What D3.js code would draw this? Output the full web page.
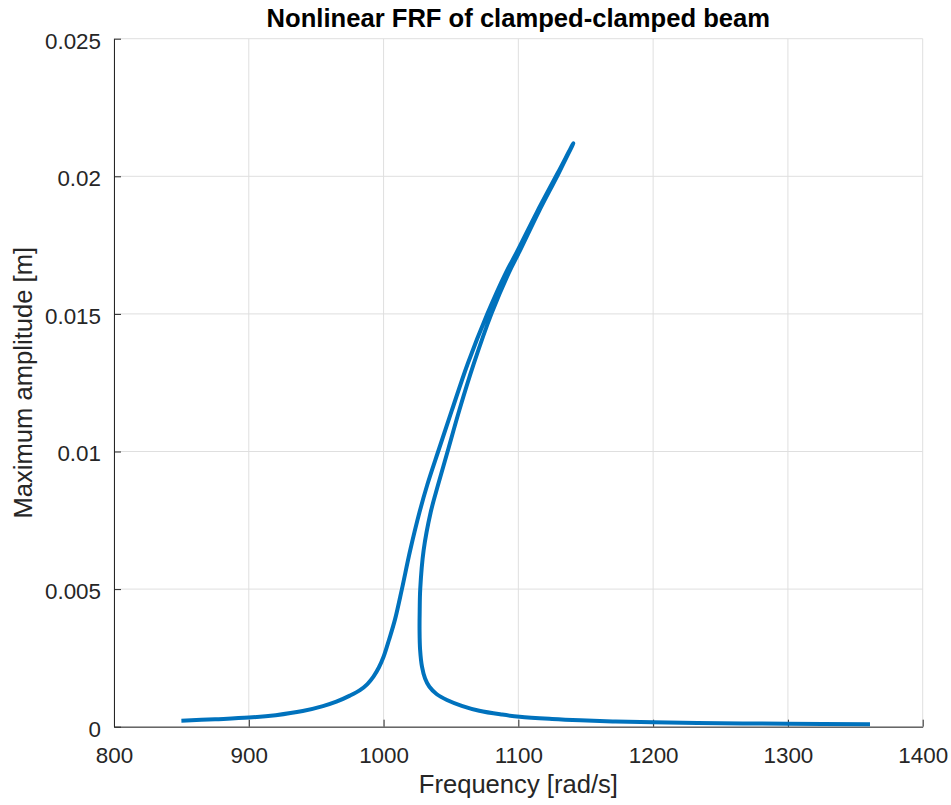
<!DOCTYPE html>
<html>
  <head>
    <meta charset="utf-8">
    <script src="https://d3js.org/d3.v7.min.js"></script>
    <title>Nonlinear FRF of clamped-clamped beam</title>
    <style>
      body { margin: 0; background: #fff; }
      text { font-family: "Liberation Sans", Arial, Helvetica, sans-serif; fill: #262626; }
    </style>
  </head>
  <body>
    <div id="chart"></div>
  </body>
  <script>

    // DATA

    // stable upper branch, rising from 850 rad/s to the peak
    const upFreq = [850, 875, 900, 920, 940, 955, 965, 975, 982.5, 988, 992.5, 996.5, 1000,
                    1004, 1008.5, 1013.6, 1019.8, 1026.7, 1032.5, 1040.5, 1050.7, 1062.5, 1077,
                    1090.8, 1099, 1113.8, 1129, 1140.8];
    const upAmp = [0.00022, 0.00027, 0.00033, 0.00042, 0.00057, 0.00075, 0.00091, 0.00113,
                   0.00133, 0.00155, 0.00182, 0.00215, 0.00254, 0.00315, 0.0039, 0.0050,
                   0.00642, 0.0078, 0.0088, 0.0100, 0.0115, 0.0132, 0.0150, 0.0165, 0.01726,
                   0.0187, 0.0201, 0.0212];

    // unstable branch back down from the peak, then the lower stable branch
    const downFreq = [1140.8, 1129.8, 1115, 1100.8, 1093, 1080, 1067, 1056.2, 1047.5,
                      1040.5, 1035, 1029.7, 1027.2, 1026.8, 1026.7, 1027.1, 1028.5, 1030.8,
                      1034, 1039.5, 1047, 1058, 1071, 1088, 1101, 1125, 1146, 1170, 1200,
                      1250, 1300, 1360.9];
    const downAmp = [0.0212, 0.0201, 0.0187, 0.01726, 0.0165, 0.0150, 0.0132, 0.0115, 0.0100,
                     0.0088, 0.0078, 0.0064, 0.0050, 0.0042, 0.0035, 0.0028, 0.00218, 0.00175,
                     0.00145, 0.00118, 0.00097, 0.00076, 0.00058, 0.00044, 0.00036, 0.00028,
                     0.00023, 0.00019, 0.00016, 0.000127, 0.000105, 0.000087];

    const xTicks = [800, 900, 1000, 1100, 1200, 1300, 1400];
    const yTicks = [0, 0.005, 0.01, 0.015, 0.02, 0.025];
    const yTickLabels = ['0', '0.005', '0.01', '0.015', '0.02', '0.025'];

    // LAYOUT

    const W = 951, H = 805;
    const plot = {left: 114, right: 922.7, top: 38.7, bottom: 726.7};

    const svg = d3.select('#chart')
      .append('svg')
      .attr('width', W)
      .attr('height', H);

    const x = d3.scaleLinear()
      .domain([800, 1400])
      .range([plot.left, plot.right]);

    const y = d3.scaleLinear()
      .domain([0, 0.025])
      .range([plot.bottom, plot.top]);

    // grid
    svg.append('g')
      .selectAll('line.vgrid')
      .data(xTicks)
      .join('line')
      .attr('x1', d => x(d)).attr('x2', d => x(d))
      .attr('y1', plot.top).attr('y2', plot.bottom)
      .attr('stroke', '#dfdfdf').attr('stroke-width', 1);

    svg.append('g')
      .selectAll('line.hgrid')
      .data(yTicks)
      .join('line')
      .attr('y1', d => y(d)).attr('y2', d => y(d))
      .attr('x1', plot.left).attr('x2', plot.right)
      .attr('stroke', '#dfdfdf').attr('stroke-width', 1);

    // axes (ticks point inwards, MATLAB style)
    const xAxis = d3.axisBottom(x)
      .tickValues(xTicks)
      .tickFormat(d3.format('d'))
      .tickSize(-7)
      .tickPadding(20)
      .tickSizeOuter(0);

    const yAxis = d3.axisLeft(y)
      .tickValues(yTicks)
      .tickFormat((d, i) => yTickLabels[i])
      .tickSize(-7)
      .tickPadding(13)
      .tickSizeOuter(0);

    const gx = svg.append('g')
      .attr('transform', `translate(0,${plot.bottom})`)
      .call(xAxis);

    const gy = svg.append('g')
      .attr('transform', `translate(${plot.left},0)`)
      .call(yAxis);

    [gx, gy].forEach(g => {
      g.select('.domain').attr('stroke', '#262626').attr('stroke-width', 1);
      g.selectAll('.tick line').attr('stroke', '#262626').attr('stroke-width', 1);
      g.selectAll('.tick text')
        .attr('fill', '#262626')
        .attr('font-size', 22.4)
        .attr('font-family', '"Liberation Sans", Arial, sans-serif');
    });
    gy.selectAll('.tick text').attr('dy', '0.42em');

    // the FRF curve
    const pts = upFreq.map((f, i) => [f, upAmp[i]])
      .concat(downFreq.slice(1).map((f, i) => [f, downAmp[i + 1]]));

    const line = d3.line()
      .x(d => x(d[0]))
      .y(d => y(d[1]))
      .curve(d3.curveCatmullRom.alpha(0.5));

    svg.append('path')
      .datum(pts)
      .attr('d', line)
      .attr('fill', 'none')
      .attr('stroke', '#0072BD')
      .attr('stroke-width', 4)
      .attr('stroke-linejoin', 'round')
      .attr('stroke-linecap', 'butt');

    // labels
    svg.append('text')
      .attr('x', (plot.left + plot.right) / 2)
      .attr('y', 27)
      .attr('text-anchor', 'middle')
      .attr('font-size', 25.6)
      .attr('font-weight', 'bold')
      .style('fill', '#000')
      .text('Nonlinear FRF of clamped-clamped beam');

    svg.append('text')
      .attr('x', (plot.left + plot.right) / 2)
      .attr('y', 793)
      .attr('text-anchor', 'middle')
      .attr('font-size', 25.6)
      .text('Frequency [rad/s]');

    svg.append('text')
      .attr('transform', `translate(32,${(plot.top + plot.bottom) / 2}) rotate(-90)`)
      .attr('text-anchor', 'middle')
      .attr('font-size', 25.6)
      .text('Maximum amplitude [m]');

  </script>
</html>
